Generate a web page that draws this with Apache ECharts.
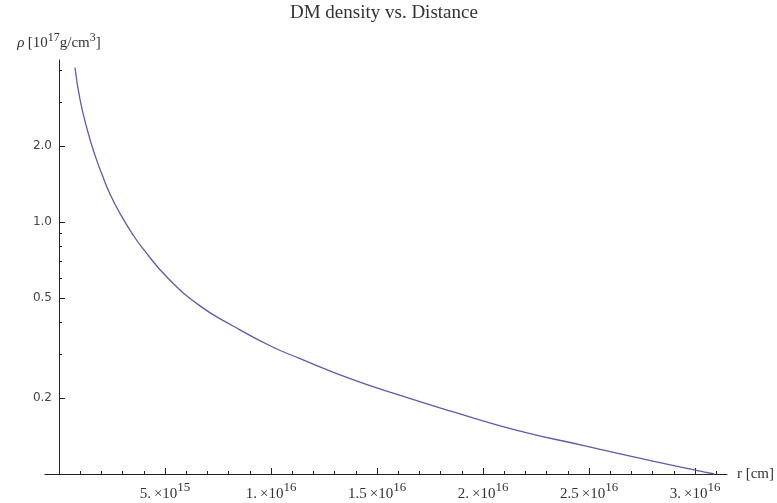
<!DOCTYPE html>
<html>
<head>
<meta charset="utf-8">
<script src="https://cdn.jsdelivr.net/npm/echarts@6/dist/echarts.min.js"></script>
<style>html,body{margin:0;padding:0;background:#fff}#c{width:777px;height:503px}</style>
</head>
<body>
<div id="c"></div>
<script>
// Distance r [cm]
var radius = [0.755e15, 0.99e15, 1.35e15, 1.70e15, 2.05e15, 2.41e15, 2.88e15, 3.49e15, 3.96e15, 5.09e15, 6.65e15, 8.21e15, 9.95e15,
  11.37e15, 13.73e15, 16.09e15, 18.44e15, 21.6e15, 24.7e15, 27.9e15, 30.4e15, 30.9e15];
// DM density [1e17 g/cm^3]
var density = [4.11, 3.07, 2.30, 1.84, 1.53, 1.29, 1.08, 0.890, 0.785, 0.605, 0.465, 0.387, 0.323,
  0.287, 0.239, 0.205, 0.178, 0.149, 0.130, 0.113, 0.102, 0.1];
var yLabelTicks = [0.2, 0.5, 1.0, 2.0];
var yMinorTicks = [0.3, 0.4, 0.6, 0.7, 0.8, 0.9, 3.0, 4.0];
var xLabelTicks = [5e15, 1e16, 1.5e16, 2e16, 2.5e16, 3e16];
var xMinorTicks = [1e15, 2e15, 3e15, 4e15, 6e15, 7e15, 8e15, 9e15, 11e15, 12e15, 13e15, 14e15,
  16e15, 17e15, 18e15, 19e15, 21e15, 22e15, 23e15, 24e15, 26e15, 27e15, 28e15, 29e15, 31e15];

var serif = '"Liberation Serif", "DejaVu Serif", serif';
var axisCol = '#222';
var points = radius.map(function (r, i) { return [r, density[i]]; });

function xFmt(v) {
  var e = Math.floor(Math.log10(v) + 1e-9);
  var m = Math.round(v / Math.pow(10, e) * 10) / 10;
  var ms = (m % 1 === 0) ? (m + '.') : String(m);
  return '{m|' + ms + '\u2009\u00d710}{s|' + e + '}';
}

var chart = echarts.init(document.getElementById('c'), null, {renderer: 'canvas'});
chart.setOption({
  animation: false,
  backgroundColor: '#fff',
  title: {
    text: 'DM density vs. Distance',
    left: 285, top: -1,
    textStyle: {fontFamily: serif, fontSize: 19, fontWeight: 'normal', color: '#333'}
  },
  grid: {left: 45, right: 50, top: 60, bottom: 29},
  xAxis: [{
    type: 'value', min: -0.66e15, max: 3.15e16,
    position: 'bottom',
    name: 'r [cm]', nameLocation: 'end', nameGap: 10,
    nameTextStyle: {fontFamily: serif, fontSize: 15, color: '#333', verticalAlign: 'middle', align: 'left'},
    axisLine: {show: true, lineStyle: {color: axisCol, width: 1}},
    axisTick: {show: true, inside: true, length: 6, customValues: xLabelTicks, lineStyle: {color: axisCol}},
    axisLabel: {
      customValues: xLabelTicks, margin: 6, formatter: xFmt,
      rich: {
        m: {fontFamily: serif, fontSize: 15, color: '#333', verticalAlign: 'bottom', lineHeight: 22},
        s: {fontFamily: serif, fontSize: 13, color: '#333', verticalAlign: 'bottom', lineHeight: 22, padding: [0, 0, 8, 0]}
      }
    },
    splitLine: {show: false}
  }, {
    type: 'value', min: -0.66e15, max: 3.15e16,
    position: 'bottom',
    axisLine: {show: false},
    axisTick: {show: true, inside: true, length: 3, customValues: xMinorTicks, lineStyle: {color: axisCol}},
    axisLabel: {show: false},
    splitLine: {show: false}
  }],
  yAxis: [{
    type: 'log', logBase: 10, min: 0.1, max: 4.4,
    position: 'left',
    name: '{i|\u03c1} {a|[10}{s|17}{a|g/cm}{s|3}{a|]}',
    nameLocation: 'end', nameGap: 9,
    nameTextStyle: {
      align: 'center',
      rich: {
        i: {fontFamily: serif, fontStyle: 'italic', fontSize: 15, color: '#333', verticalAlign: 'bottom', lineHeight: 20},
        a: {fontFamily: serif, fontSize: 15, color: '#333', verticalAlign: 'bottom', lineHeight: 20},
        s: {fontFamily: serif, fontSize: 12, color: '#333', verticalAlign: 'bottom', lineHeight: 20, padding: [0, 0, 7, 0]}
      }
    },
    axisLine: {show: true, onZero: true, lineStyle: {color: axisCol, width: 1}},
    axisTick: {show: true, inside: true, length: 6, customValues: yLabelTicks, lineStyle: {color: axisCol}},
    axisLabel: {
      customValues: yLabelTicks, margin: -7,
      fontFamily: '"DejaVu Sans", sans-serif', fontSize: 12, color: '#444',
      formatter: function (v) { return Number(v).toFixed(1); }
    },
    splitLine: {show: false},
    minorTick: {show: false}
  }, {
    type: 'log', logBase: 10, min: 0.1, max: 4.4,
    position: 'left',
    axisLine: {show: false, onZero: true},
    axisTick: {show: true, inside: true, length: 3, customValues: yMinorTicks, lineStyle: {color: axisCol}},
    axisLabel: {show: false},
    splitLine: {show: false}
  }],
  series: [{
    type: 'line',
    data: points,
    xAxisIndex: 0, yAxisIndex: 0,
    smooth: 0.5,
    showSymbol: false,
    symbol: 'none',
    clip: true,
    lineStyle: {color: '#5c5caa', width: 1.3}
  }]
});
</script>
</body>
</html>
